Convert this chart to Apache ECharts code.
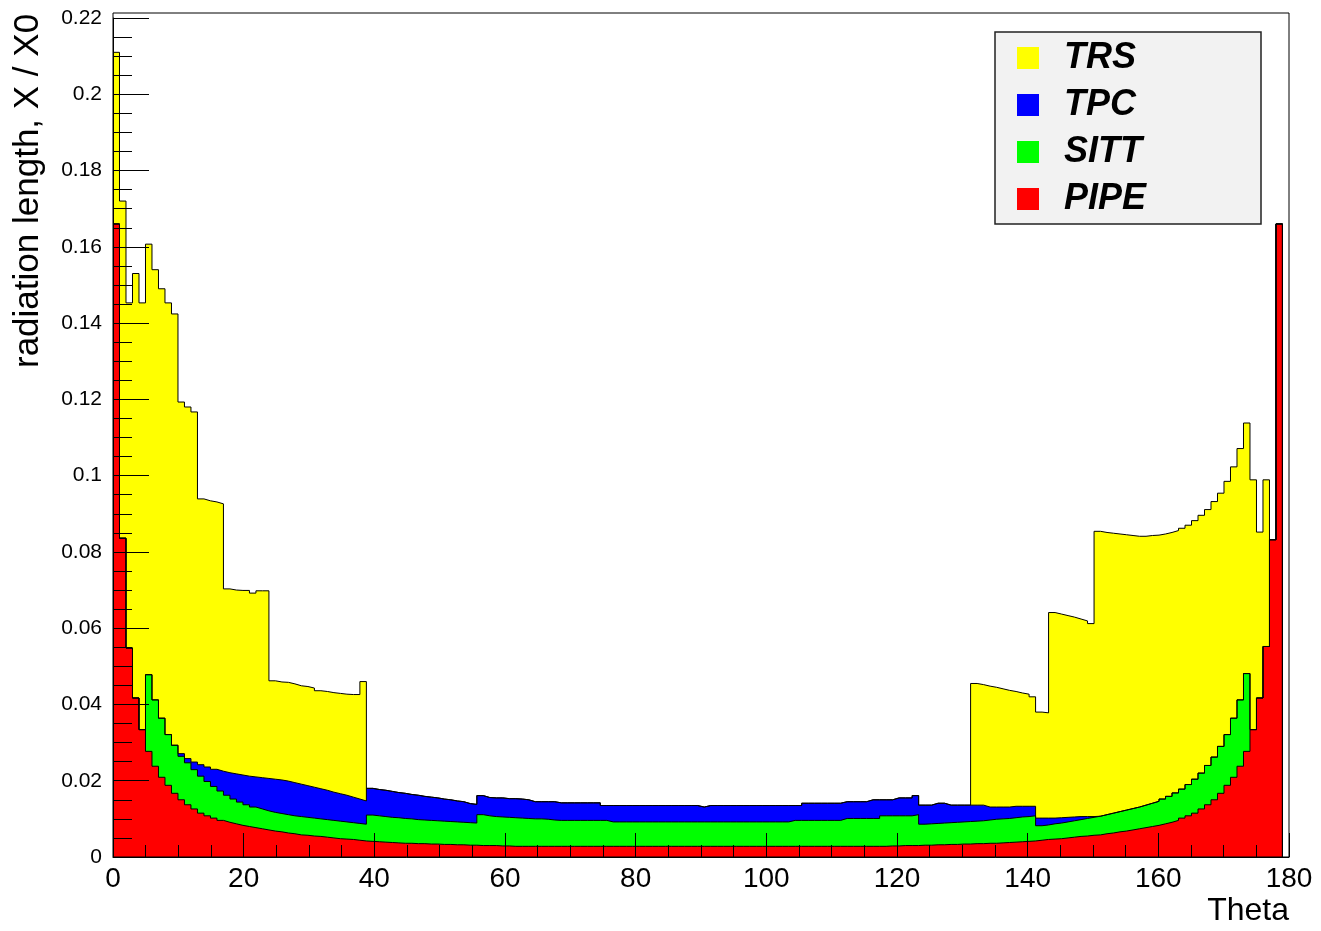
<!DOCTYPE html>
<html>
<head>
<meta charset="utf-8">
<script src="https://cdn.jsdelivr.net/npm/echarts@6/dist/echarts.min.js"></script>
<style>
  html, body { margin: 0; padding: 0; background: #ffffff; }
  #chart { width: 1321px; height: 931px; }
</style>
</head>
<body>
<div id="chart"></div>
<script>
// Radiation length per detector vs polar angle: 180 bins spanning 0..179 degrees
const thetaRange = [0, 179];
const nBins = 180;

const pipe = [
  0.1660, 0.0836, 0.0548, 0.0417, 0.0334, 0.0277, 0.0238, 0.0209, 0.0188, 0.0167,
  0.0150, 0.0137, 0.0126, 0.0115, 0.0108, 0.0102, 0.0096, 0.0091, 0.0087, 0.0083,
  0.0080, 0.0077, 0.0074, 0.0071, 0.0068, 0.0066, 0.0063, 0.0061, 0.0058, 0.0057,
  0.0055, 0.0054, 0.0052, 0.0050, 0.0048, 0.0047, 0.0046, 0.0044, 0.0042, 0.0041,
  0.0040, 0.0039, 0.0038, 0.0037, 0.0036, 0.0036, 0.0035, 0.0035, 0.0034, 0.0034,
  0.0033, 0.0033, 0.0032, 0.0032, 0.0031, 0.0031, 0.0030, 0.0030, 0.0030, 0.0029,
  0.0029, 0.0028, 0.0028, 0.0028, 0.0028, 0.0028, 0.0028, 0.0028, 0.0028, 0.0028,
  0.0028, 0.0028, 0.0028, 0.0028, 0.0028, 0.0028, 0.0028, 0.0028, 0.0028, 0.0028,
  0.0028, 0.0028, 0.0028, 0.0028, 0.0028, 0.0028, 0.0028, 0.0028, 0.0028, 0.0028,
  0.0028, 0.0028, 0.0028, 0.0028, 0.0028, 0.0028, 0.0028, 0.0028, 0.0028, 0.0028,
  0.0028, 0.0028, 0.0028, 0.0028, 0.0028, 0.0028, 0.0028, 0.0028, 0.0028, 0.0028,
  0.0028, 0.0028, 0.0028, 0.0028, 0.0028, 0.0028, 0.0028, 0.0028, 0.0028, 0.0029,
  0.0029, 0.0030, 0.0030, 0.0030, 0.0031, 0.0031, 0.0032, 0.0032, 0.0033, 0.0033,
  0.0034, 0.0034, 0.0035, 0.0035, 0.0036, 0.0036, 0.0037, 0.0038, 0.0039, 0.0040,
  0.0041, 0.0042, 0.0044, 0.0046, 0.0047, 0.0048, 0.0050, 0.0052, 0.0054, 0.0055,
  0.0057, 0.0058, 0.0061, 0.0063, 0.0066, 0.0068, 0.0071, 0.0074, 0.0077, 0.0080,
  0.0083, 0.0087, 0.0091, 0.0096, 0.0102, 0.0108, 0.0115, 0.0126, 0.0137, 0.0150,
  0.0167, 0.0188, 0.0209, 0.0238, 0.0277, 0.0334, 0.0417, 0.0552, 0.0832, 0.1660
];

const sitt = [
  0, 0, 0, 0, 0, 0.0201, 0.0174, 0.0155, 0.0133, 0.0126,
  0.0114, 0.0110, 0.0103, 0.0097, 0.0090, 0.0083, 0.0077, 0.0071, 0.0065, 0.0061,
  0.0057, 0.0054, 0.0052, 0.0050, 0.0049, 0.0048, 0.0048, 0.0047, 0.0048, 0.0047,
  0.0047, 0.0046, 0.0046, 0.0046, 0.0046, 0.0045, 0.0044, 0.0044, 0.0044, 0.0069,
  0.0068, 0.0067, 0.0066, 0.0066, 0.0065, 0.0064, 0.0063, 0.0062, 0.0062, 0.0061,
  0.0061, 0.0060, 0.0060, 0.0059, 0.0059, 0.0058, 0.0081, 0.0078, 0.0076, 0.0076,
  0.0075, 0.0075, 0.0074, 0.0073, 0.0072, 0.0072, 0.0071, 0.0069, 0.0068, 0.0068,
  0.0068, 0.0068, 0.0068, 0.0068, 0.0068, 0.0068, 0.0064, 0.0064, 0.0064, 0.0064,
  0.0064, 0.0064, 0.0064, 0.0064, 0.0064, 0.0064, 0.0064, 0.0064, 0.0064, 0.0064,
  0.0064, 0.0064, 0.0064, 0.0064, 0.0064, 0.0064, 0.0064, 0.0064, 0.0064, 0.0064,
  0.0064, 0.0064, 0.0064, 0.0064, 0.0068, 0.0068, 0.0068, 0.0068, 0.0068, 0.0068,
  0.0068, 0.0068, 0.0073, 0.0073, 0.0073, 0.0073, 0.0073, 0.0073, 0.0080, 0.0079,
  0.0079, 0.0078, 0.0078, 0.0081, 0.0055, 0.0056, 0.0056, 0.0057, 0.0057, 0.0058,
  0.0058, 0.0059, 0.0059, 0.0060, 0.0061, 0.0063, 0.0063, 0.0063, 0.0064, 0.0065,
  0.0065, 0.0066, 0.0038, 0.0038, 0.0040, 0.0041, 0.0042, 0.0043, 0.0044, 0.0046,
  0.0047, 0.0049, 0.0050, 0.0052, 0.0053, 0.0055, 0.0056, 0.0057, 0.0059, 0.0061,
  0.0063, 0.0065, 0.0068, 0.0072, 0.0076, 0.0082, 0.0089, 0.0094, 0.0103, 0.0112,
  0.0123, 0.0133, 0.0155, 0.0174, 0.0204, 0, 0, 0, 0, 0
];

const tpc = [
  0, 0, 0, 0, 0, 0, 0, 0, 0, 0,
  0.0007, 0.0011, 0.0020, 0.0030, 0.0038, 0.0045, 0.0052, 0.0059, 0.0066, 0.0071,
  0.0075, 0.0079, 0.0082, 0.0085, 0.0087, 0.0088, 0.0088, 0.0087, 0.0085, 0.0083,
  0.0081, 0.0079, 0.0077, 0.0074, 0.0072, 0.0070, 0.0067, 0.0064, 0.0061, 0.0070,
  0.0069, 0.0069, 0.0068, 0.0066, 0.0066, 0.0064, 0.0064, 0.0062, 0.0061, 0.0060,
  0.0058, 0.0057, 0.0055, 0.0054, 0.0050, 0.0049, 0.0050, 0.0048, 0.0049, 0.0050,
  0.0049, 0.0050, 0.0050, 0.0049, 0.0045, 0.0045, 0.0046, 0.0048, 0.0046, 0.0046,
  0.0046, 0.0046, 0.0046, 0.0046, 0.0046, 0.0039, 0.0043, 0.0043, 0.0043, 0.0043,
  0.0043, 0.0043, 0.0043, 0.0043, 0.0043, 0.0043, 0.0043, 0.0043, 0.0043, 0.0043,
  0.0039, 0.0043, 0.0043, 0.0043, 0.0043, 0.0043, 0.0043, 0.0043, 0.0043, 0.0043,
  0.0043, 0.0043, 0.0043, 0.0043, 0.0039, 0.0039, 0.0045, 0.0045, 0.0045, 0.0045,
  0.0045, 0.0045, 0.0044, 0.0044, 0.0044, 0.0044, 0.0049, 0.0049, 0.0042, 0.0042,
  0.0047, 0.0047, 0.0047, 0.0050, 0.0050, 0.0049, 0.0053, 0.0052, 0.0046, 0.0045,
  0.0044, 0.0043, 0.0042, 0.0041, 0.0034, 0.0032, 0.0031, 0.0030, 0.0030, 0.0028,
  0.0027, 0.0025, 0.0020, 0.0018, 0.0015, 0.0014, 0.0012, 0.0010, 0.0008, 0.0005,
  0.0002, 0, 0, 0, 0, 0, 0, 0, 0, 0,
  0, 0, 0, 0, 0, 0, 0, 0, 0, 0,
  0, 0, 0, 0, 0, 0, 0, 0, 0, 0
];

const trs = [
  0.0450, 0.0884, 0.0905, 0.1113, 0.1119, 0.1129, 0.1128, 0.1126, 0.1132, 0.1131,
  0.0922, 0.0922, 0.0918, 0.0697, 0.0698, 0.0701, 0.0701, 0.0482, 0.0482, 0.0484,
  0.0487, 0.0482, 0.0490, 0.0492, 0.0258, 0.0257, 0.0259, 0.0259, 0.0258, 0.0260,
  0.0260, 0.0257, 0.0259, 0.0261, 0.0263, 0.0265, 0.0269, 0.0274, 0.0313, 0,
  0, 0, 0, 0, 0, 0, 0, 0, 0, 0,
  0, 0, 0, 0, 0, 0, 0, 0, 0, 0,
  0, 0, 0, 0, 0, 0, 0, 0, 0, 0,
  0, 0, 0, 0, 0, 0, 0, 0, 0, 0,
  0, 0, 0, 0, 0, 0, 0, 0, 0, 0,
  0, 0, 0, 0, 0, 0, 0, 0, 0, 0,
  0, 0, 0, 0, 0, 0, 0, 0, 0, 0,
  0, 0, 0, 0, 0, 0, 0, 0, 0, 0,
  0, 0, 0, 0, 0, 0, 0, 0, 0, 0,
  0, 0, 0.0319, 0.0316, 0.0317, 0.0314, 0.0310, 0.0306, 0.0301, 0.0297,
  0.0294, 0.0287, 0.0278, 0.0276, 0.0539, 0.0534, 0.0529, 0.0524, 0.0518, 0.0513,
  0.0506, 0.0747, 0.0740, 0.0734, 0.0728, 0.0722, 0.0716, 0.0710, 0.0705, 0.0702,
  0.0698, 0.0695, 0.0692, 0.0688, 0.0684, 0.0680, 0.0678, 0.0676, 0.0671, 0.0670,
  0.0664, 0.0664, 0.0659, 0.0659, 0.0657, 0.0655, 0.0435, 0.0437, 0, 0
];

const xTicks = [0, 20, 40, 60, 80, 100, 120, 140, 160, 180];
const yTicks = [0, 0.02, 0.04, 0.06, 0.08, 0.1, 0.12, 0.14, 0.16, 0.18, 0.2, 0.22];

// Stack layers bottom to top, as in the detector stack
const layers = [
  { name: 'PIPE', values: pipe, color: '#ff0000' },
  { name: 'SITT', values: sitt, color: '#00ff00' },
  { name: 'TPC',  values: tpc,  color: '#0000ff' },
  { name: 'TRS',  values: trs,  color: '#ffff00' }
];

const FONT = '"Liberation Sans", Arial, Helvetica, sans-serif';

// Bin edges of the histogram
const edges = [];
for (let i = 0; i <= nBins; i++) {
  edges.push(thetaRange[0] + (thetaRange[1] - thetaRange[0]) * i / nBins);
}

// Cumulative sums: each layer is drawn as the sum of itself and everything below it
let running = new Array(nBins).fill(0);
layers.forEach(layer => {
  running = running.map((v, i) => v + layer.values[i]);
  layer.cumulative = running;
});

// Step outline: bin i spans edges[i]..edges[i+1]; closed down to zero after the last bin
function stepPoints(vals) {
  const pts = vals.map((v, i) => [edges[i], v]);
  pts.push([edges[nBins], 0]);
  return pts;
}

// Draw the tallest sum first so lower layers paint over it
const series = layers.slice().reverse().map(layer => ({
  name: layer.name,
  type: 'line',
  step: 'end',
  data: stepPoints(layer.cumulative),
  symbol: 'none',
  showSymbol: false,
  animation: false,
  emphasis: { disabled: true },
  itemStyle: { color: layer.color },
  lineStyle: { color: '#000000', width: 1 },
  areaStyle: { color: layer.color, opacity: 1 }
}));

const chart = echarts.init(document.getElementById('chart'), null, { renderer: 'canvas' });

chart.setOption({
  backgroundColor: '#ffffff',
  animation: false,
  grid: { left: 113, right: 32, top: 18, bottom: 74, containLabel: false, outerBoundsMode: 'none' },
  xAxis: {
    type: 'value',
    min: xTicks[0],
    max: xTicks[xTicks.length - 1],
    interval: xTicks[1] - xTicks[0],
    z: 5,
    axisLine: { show: true, onZero: false, lineStyle: { color: '#000', width: 1 } },
    axisTick: { show: true, inside: true, length: 24, lineStyle: { color: '#000', width: 1 } },
    minorTick: { show: true, splitNumber: 4, length: 12, lineStyle: { color: '#000', width: 1 } },
    splitLine: { show: false },
    axisLabel: { color: '#000', fontSize: 28, margin: 8, fontFamily: FONT },
    name: 'Theta',
    nameLocation: 'end',
    nameGap: 0,
    nameMoveOverlap: false,
    nameTextStyle: {
      color: '#000', fontSize: 32, fontFamily: FONT,
      align: 'right', verticalAlign: 'top', padding: [38, 0, 0, 0]
    }
  },
  yAxis: {
    type: 'value',
    min: yTicks[0],
    max: yTicks[yTicks.length - 1],
    interval: yTicks[1] - yTicks[0],
    z: 5,
    axisLine: { show: true, onZero: false, lineStyle: { color: '#000', width: 1 } },
    axisTick: { show: true, inside: true, length: 36, lineStyle: { color: '#000', width: 1 } },
    minorTick: { show: true, splitNumber: 4, length: 19, lineStyle: { color: '#000', width: 1 } },
    splitLine: { show: false },
    axisLabel: { color: '#000', fontSize: 21, margin: 11, fontFamily: FONT },
    name: 'radiation length, X / X0',
    nameLocation: 'end',
    nameRotate: 90,
    nameGap: -350,
    nameMoveOverlap: false,
    nameTextStyle: {
      color: '#000', fontSize: 35, lineHeight: 38, fontFamily: FONT,
      verticalAlign: 'bottom', padding: [0, 0, 66, 0]
    }
  },
  legend: {
    data: ['TRS', 'TPC', 'SITT', 'PIPE'],
    orient: 'vertical',
    left: 1017,
    top: 39,
    padding: 0,
    itemGap: 9,
    itemWidth: 22,
    itemHeight: 22,
    icon: 'rect',
    selectedMode: false,
    z: 6,
    itemStyle: { borderWidth: 0 },
    textStyle: {
      color: '#000', fontSize: 36, lineHeight: 36, fontWeight: 'bold', fontStyle: 'italic',
      fontFamily: FONT, padding: [2, 0, 0, 20]
    }
  },
  graphic: [
    {
      type: 'rect',
      silent: true,
      z: 5,
      shape: { x: 995, y: 32, width: 266, height: 192 },
      style: { fill: '#f2f2f2', stroke: '#222222', lineWidth: 1.5 }
    },
    {
      type: 'rect',
      silent: true,
      z: 10,
      shape: { x: 113, y: 13, width: 1176, height: 844 },
      style: { fill: 'none', stroke: '#000000', lineWidth: 1 }
    }
  ],
  series: series
});
</script>
</body>
</html>
